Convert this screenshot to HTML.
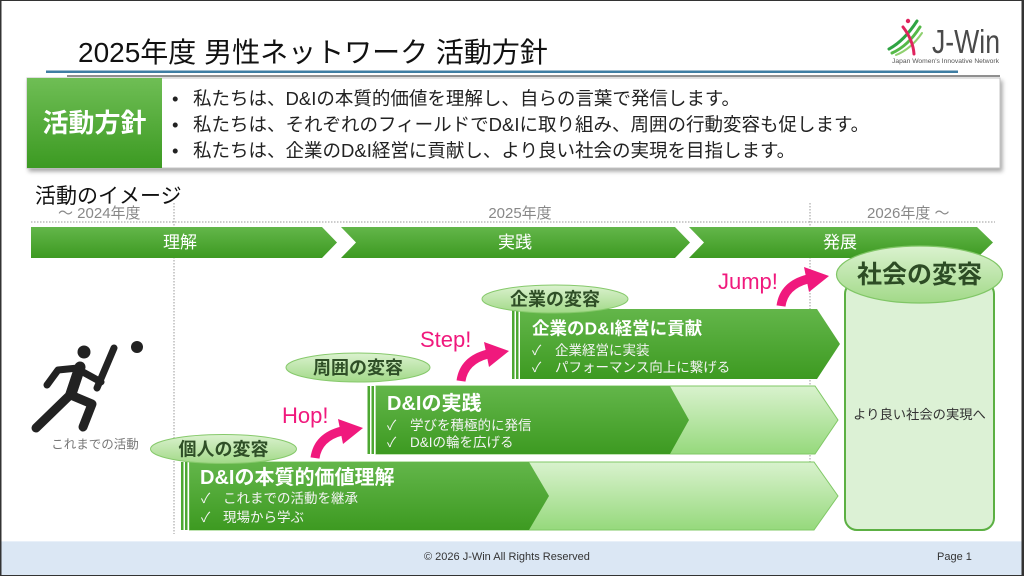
<!DOCTYPE html>
<html><head><meta charset="utf-8">
<style>
html,body{margin:0;padding:0;background:#fff;}
svg{display:block;}
text{font-family:"Liberation Sans","Noto Sans CJK JP",sans-serif;}
</style></head>
<body>
<svg width="1024" height="576" viewBox="0 0 1024 576" xmlns="http://www.w3.org/2000/svg">
<defs>
  <linearGradient id="gDark" x1="0" y1="0" x2="0" y2="1">
    <stop offset="0" stop-color="#63b64a"/><stop offset="1" stop-color="#3d9a21"/>
  </linearGradient>
  <linearGradient id="gLight" x1="0" y1="0" x2="0" y2="1">
    <stop offset="0" stop-color="#d9f2ce"/><stop offset="1" stop-color="#96d97c"/>
  </linearGradient>
  <linearGradient id="gEll" x1="0" y1="0" x2="0" y2="1">
    <stop offset="0" stop-color="#dbf2cf"/><stop offset="1" stop-color="#a2d988"/>
  </linearGradient>
  <linearGradient id="gLabel" x1="0" y1="0" x2="0" y2="1">
    <stop offset="0" stop-color="#6fbe55"/><stop offset="1" stop-color="#3c9a22"/>
  </linearGradient>
  <filter id="sh" x="-5%" y="-20%" width="110%" height="150%">
    <feDropShadow dx="2" dy="3" stdDeviation="2" flood-color="#000" flood-opacity="0.35"/>
  </filter>
</defs>

<!-- Title -->
<text x="78" y="62" font-size="28" fill="#111">2025年度 男性ネットワーク 活動方針</text>
<rect x="46" y="70.5" width="912" height="2.5" fill="#3f7ea3"/>
<rect x="67" y="75.5" width="933" height="1" fill="#222"/>

<!-- Logo -->
<g fill="none" stroke-linecap="round">
  <path d="M889,49 Q904,41 917,21" stroke="#2fa443" stroke-width="3"/>
  <path d="M892,53 Q908,46 920,27" stroke="#55b948" stroke-width="3"/>
  <path d="M896,55 Q911,49 922,33" stroke="#8fd06f" stroke-width="2"/>
  <path d="M903,27 Q913,40 914,54" stroke="#e0245e" stroke-width="3"/>
</g>
<circle cx="908" cy="21" r="2.2" fill="#e0245e"/>
<text x="932" y="53" font-size="33" fill="#4a4a4a" textLength="68" lengthAdjust="spacingAndGlyphs">J-Win</text>
<text x="892" y="63" font-size="6" fill="#555" textLength="107" lengthAdjust="spacingAndGlyphs">Japan Women's Innovative Network</text>

<!-- Policy box -->
<rect x="27" y="78" width="973" height="90" fill="#fff" stroke="#c4c4c4" stroke-width="1" filter="url(#sh)"/>
<rect x="27" y="78" width="135" height="90" fill="url(#gLabel)"/>
<text x="94.5" y="132" font-size="26" font-weight="bold" fill="#fff" text-anchor="middle">活動方針</text>
<g font-size="18.5" fill="#222">
  <text x="172" y="105">•</text>
  <text x="193" y="105">私たちは、D&amp;Iの本質的価値を理解し、自らの言葉で発信します。</text>
  <text x="172" y="131">•</text>
  <text x="193" y="131">私たちは、それぞれのフィールドでD&amp;Iに取り組み、周囲の行動変容も促します。</text>
  <text x="172" y="157">•</text>
  <text x="193" y="157">私たちは、企業のD&amp;I経営に貢献し、より良い社会の実現を目指します。</text>
</g>

<!-- Section heading -->
<text x="35" y="203" font-size="21" fill="#111">活動のイメージ</text>
<text x="58" y="218" font-size="15" fill="#888">～ 2024年度</text>
<text x="520" y="218" font-size="15" fill="#888" text-anchor="middle">2025年度</text>
<text x="867" y="218" font-size="15" fill="#888">2026年度 ～</text>

<!-- dotted guides -->
<line x1="31" y1="222" x2="995" y2="222" stroke="#9a9a9a" stroke-width="1" stroke-dasharray="1.5 1.5"/>
<line x1="174" y1="203" x2="174" y2="534" stroke="#9a9a9a" stroke-width="1" stroke-dasharray="1.5 1.5"/>
<line x1="810" y1="203" x2="810" y2="510" stroke="#9a9a9a" stroke-width="1" stroke-dasharray="1.5 1.5"/>

<!-- Phase arrows -->
<polygon points="31,227 322,227 337,242.5 322,258 31,258" fill="url(#gDark)"/>
<polygon points="341,227 675,227 690,242.5 675,258 341,258 356,242.5" fill="url(#gDark)"/>
<polygon points="689,227 977,227 993,242.5 977,258 689,258 704,242.5" fill="url(#gDark)"/>
<g font-size="17" fill="#fff" text-anchor="middle">
  <text x="180" y="248">理解</text>
  <text x="515" y="248">実践</text>
  <text x="840" y="248">発展</text>
</g>

<!-- Society column -->
<rect x="845" y="282" width="149" height="248" rx="12" fill="#dcf1d5" stroke="#5cb043" stroke-width="2"/>
<ellipse cx="919.5" cy="274.5" rx="83" ry="28.5" fill="url(#gEll)" stroke="#80c666" stroke-width="1.2"/>
<text x="919.5" y="283" font-size="25" font-weight="bold" fill="#2d4c25" text-anchor="middle">社会の変容</text>
<text x="919.5" y="419" font-size="13.3" fill="#333" text-anchor="middle">より良い社会の実現へ</text>

<!-- Block 1 -->
<polygon points="189.5,462 814,462 838,496 814,530 189.5,530" fill="url(#gLight)" stroke="#80c866" stroke-width="1"/>
<rect x="181" y="462" width="2.5" height="68" fill="#4da832"/>
<rect x="185" y="462" width="2.5" height="68" fill="#4da832"/>
<polygon points="189.5,462 529,462 549,496 529,530 189.5,530" fill="url(#gDark)"/>
<text x="200" y="484" font-size="20" font-weight="bold" fill="#fff">D&amp;Iの本質的価値理解</text>
<g font-size="13.5" fill="#f4f4f4">
  <text x="201" y="503" font-family="DejaVu Sans, sans-serif">✓</text>
  <text x="223" y="503">これまでの活動を継承</text>
  <text x="201" y="522" font-family="DejaVu Sans, sans-serif">✓</text>
  <text x="223" y="522">現場から学ぶ</text>
</g>

<!-- Block 2 -->
<polygon points="376,386 815,386 838,420 815,454 376,454" fill="url(#gLight)" stroke="#80c866" stroke-width="1"/>
<rect x="367.5" y="386" width="2.5" height="68" fill="#4da832"/>
<rect x="371.5" y="386" width="2.5" height="68" fill="#4da832"/>
<polygon points="376,386 670,386 689,420 670,454 376,454" fill="url(#gDark)"/>
<text x="387" y="410" font-size="20" font-weight="bold" fill="#fff">D&amp;Iの実践</text>
<g font-size="13.5" fill="#f4f4f4">
  <text x="387" y="430" font-family="DejaVu Sans, sans-serif">✓</text>
  <text x="410" y="430">学びを積極的に発信</text>
  <text x="387" y="447" font-family="DejaVu Sans, sans-serif">✓</text>
  <text x="410" y="447">D&amp;Iの輪を広げる</text>
</g>

<!-- Block 3 -->
<rect x="512" y="309" width="2.5" height="70" fill="#4da832"/>
<rect x="516" y="309" width="2.5" height="70" fill="#4da832"/>
<polygon points="520,309 817,309 840,344 817,379 520,379" fill="url(#gDark)"/>
<text x="532" y="334.5" font-size="17.5" font-weight="bold" fill="#fff">企業のD&amp;I経営に貢献</text>
<g font-size="13.5" fill="#f4f4f4">
  <text x="532" y="355" font-family="DejaVu Sans, sans-serif">✓</text>
  <text x="555" y="355">企業経営に実装</text>
  <text x="532" y="372" font-family="DejaVu Sans, sans-serif">✓</text>
  <text x="555" y="372">パフォーマンス向上に繋げる</text>
</g>

<!-- Ellipse labels -->
<ellipse cx="223.5" cy="449" rx="73" ry="14.5" fill="url(#gEll)" stroke="#86c96b" stroke-width="1"/>
<text x="223.5" y="455.5" font-size="18" font-weight="bold" fill="#2f4f27" text-anchor="middle">個人の変容</text>
<ellipse cx="358" cy="367.5" rx="72" ry="14.5" fill="url(#gEll)" stroke="#86c96b" stroke-width="1"/>
<text x="358" y="374" font-size="18" font-weight="bold" fill="#2f4f27" text-anchor="middle">周囲の変容</text>
<ellipse cx="555" cy="299" rx="73" ry="14" fill="url(#gEll)" stroke="#86c96b" stroke-width="1"/>
<text x="555" y="305.5" font-size="18" font-weight="bold" fill="#2f4f27" text-anchor="middle">企業の変容</text>

<!-- Hop / Step / Jump -->
<g>
  <path d="M315,458 Q318,437 342,431" stroke="#f0197d" stroke-width="9" fill="none"/>
  <polygon points="338,419 363,428 343,444" fill="#f0197d"/>
</g>
<g transform="translate(146,-77)">
  <path d="M315,458 Q318,437 342,431" stroke="#f0197d" stroke-width="9" fill="none"/>
  <polygon points="338,419 363,428 343,444" fill="#f0197d"/>
</g>
<g transform="translate(466,-152)">
  <path d="M315,458 Q318,437 342,431" stroke="#f0197d" stroke-width="9" fill="none"/>
  <polygon points="338,419 363,428 343,444" fill="#f0197d"/>
</g>
<g font-size="22" fill="#f0197d">
  <text x="282" y="423">Hop!</text>
  <text x="420" y="347">Step!</text>
  <text x="718" y="289">Jump!</text>
</g>

<!-- Person icon -->
<g stroke="#222" stroke-linecap="round" stroke-linejoin="round" fill="none">
  <line x1="80" y1="367" x2="71" y2="394" stroke-width="11"/>
  <polyline points="78,368 58,370 47,385" stroke-width="7"/>
  <line x1="81" y1="371" x2="101" y2="382" stroke-width="7"/>
  <line x1="114" y1="348" x2="97" y2="388" stroke-width="7"/>
  <line x1="70" y1="395" x2="36" y2="428" stroke-width="9"/>
  <polyline points="73,396 92,404 83,427" stroke-width="9"/>
</g>
<circle cx="84" cy="352" r="6.5" fill="#222"/>
<circle cx="137" cy="347" r="6" fill="#222"/>
<text x="95" y="448.5" font-size="12.5" fill="#777" text-anchor="middle">これまでの活動</text>

<!-- Footer -->
<rect x="0" y="541" width="1024" height="35" fill="#dbe7f4"/>
<rect x="0" y="541" width="1024" height="1" fill="#e8f0f9"/>
<text x="424" y="560" font-size="11" fill="#333">© 2026 J-Win All Rights Reserved</text>
<text x="937" y="560" font-size="11" fill="#333">Page 1</text>

<!-- Frame -->
<rect x="0" y="0" width="1024" height="1" fill="#333"/>
<rect x="0" y="575" width="1024" height="1" fill="#333"/>
<rect x="0" y="0" width="1.5" height="576" fill="#333"/>
<rect x="1021.5" y="0" width="2.5" height="576" fill="#333"/>
</svg>
</body></html>
